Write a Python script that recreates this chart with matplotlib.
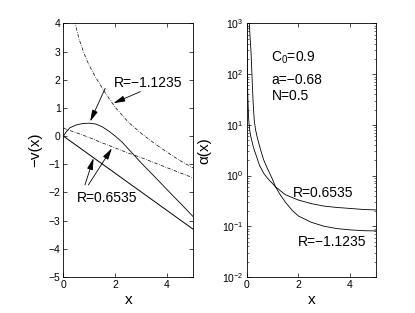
import matplotlib
matplotlib.use("Agg")
import matplotlib.pyplot as plt
from matplotlib.ticker import LogLocator, NullFormatter

plt.rcParams["font.family"] = ["Liberation Sans", "DejaVu Sans"]
plt.rcParams["mathtext.fontset"] = "custom"
plt.rcParams["mathtext.rm"] = "Liberation Sans"
plt.rcParams["mathtext.it"] = "Liberation Sans:italic"

# --------------------------------------------------
# DATA
# --------------------------------------------------

# left panel: -v(x)
line_x = [0, 1, 2, 3, 4, 5]
line_y = [0, -0.66, -1.32, -1.98, -2.64, -3.3]

hump_x = [0, 0.1, 0.25, 0.5, 0.75, 1.0, 1.25, 1.5, 1.75, 2.0, 2.25, 2.5, 3.0, 3.5, 4.0, 4.5, 5.0]
hump_y = [0, 0.15, 0.3, 0.4, 0.45, 0.46, 0.43, 0.33, 0.18, 0.0, -0.2, -0.45, -0.95, -1.42, -1.9, -2.37, -2.85]

upper_dd_x = [0.42, 0.6, 0.75, 0.9, 1.0, 1.25, 1.5, 1.75, 2.0, 2.5, 3.0, 3.5, 4.0, 4.5, 5.0]
upper_dd_y = [4.1, 3.45, 3.05, 2.7, 2.5, 2.08, 1.7, 1.35, 1.02, 0.5, 0.1, -0.25, -0.57, -0.87, -1.13]

lower_dd_x = [0, 0.5, 1.0, 1.5, 2.0, 2.5, 3.0, 3.5, 4.0, 4.5, 5.0]
lower_dd_y = [0.28, 0.12, -0.05, -0.24, -0.42, -0.6, -0.76, -0.94, -1.12, -1.3, -1.48]

# right panel: alpha(x)
alpha_pos_x = [0.015, 0.02, 0.03, 0.04, 0.05, 0.065, 0.08, 0.1, 0.13, 0.17, 0.2, 0.25,
               0.3, 0.35, 0.5, 0.67, 0.8, 1.0, 1.12, 1.5, 2.0, 2.5, 3.0, 3.5, 4.0, 4.5, 5.0]
alpha_pos_y = [1000, 400, 120, 60, 38, 22, 14, 10, 7.5, 5.8, 5.0, 3.9,
               3.2, 2.7, 1.6, 1.1, 0.9, 0.7, 0.6, 0.42, 0.33, 0.28, 0.25, 0.235, 0.225, 0.215, 0.21]

alpha_neg_x = [0.11, 0.14, 0.17, 0.2, 0.23, 0.26, 0.3, 0.35, 0.42, 0.5, 0.57, 0.67, 0.8,
               0.9, 1.0, 1.12, 1.3, 1.5, 1.75, 2.0, 2.5, 3.0, 3.5, 4.0, 4.5, 5.0]
alpha_neg_y = [1000, 500, 300, 130, 55, 25, 12, 8, 5.5, 3.9, 2.9, 2.0, 1.4,
               1.1, 0.85, 0.6, 0.42, 0.3, 0.21, 0.16, 0.12, 0.1, 0.09, 0.085, 0.082, 0.081]

params = ["C$_0$=0.9", "a=\u22120.68", "N=0.5"]


def box_ticks(ax):
    ax.tick_params(direction="in", top=True, right=True, labelsize=7.5,
                   length=3, width=0.5, pad=2)
    ax.tick_params(which="minor", direction="in", top=True, right=True,
                   length=1.5, width=0.4)
    for s in ax.spines.values():
        s.set_linewidth(0.6)


fig = plt.figure(figsize=(4.15, 3.13), dpi=100)

# --------------------------------------------------
# LEFT PANEL
# --------------------------------------------------

ax1 = fig.add_axes([0.153, 0.115, 0.312, 0.81])
ax1.plot(line_x, line_y, "k-", lw=0.7)
ax1.plot(hump_x, hump_y, "k-", lw=0.6)
ax1.plot(upper_dd_x, upper_dd_y, "k-.", lw=0.5, dashes=(5, 2, 1, 2))
ax1.plot(lower_dd_x, lower_dd_y, "k-.", lw=0.5, dashes=(5, 2, 1, 2))
ax1.set_xlim(0, 5)
ax1.set_ylim(-5, 4)
ax1.set_xticks([0, 2, 4])
ax1.set_yticks(range(-5, 5))
ax1.set_xlabel("x", fontsize=11, labelpad=2)
ax1.set_ylabel("\u2212v(x)", fontsize=11, labelpad=5)
box_ticks(ax1)

arrow = dict(arrowstyle="-|>,head_length=0.7,head_width=0.18", color="k",
             lw=0.6, shrinkA=0, shrinkB=0)
ax1.text(1.93, 1.88, "R=\u22121.1235", fontsize=10, va="center", ha="left")
ax1.annotate("", xy=(1.03, 0.52), xytext=(1.61, 1.7), arrowprops=arrow)
ax1.annotate("", xy=(1.93, 1.17), xytext=(2.97, 1.58), arrowprops=arrow)

ax1.text(0.51, -2.2, "R=0.6535", fontsize=10, va="center", ha="left")
ax1.annotate("", xy=(1.16, -0.78), xytext=(0.83, -1.73), arrowprops=arrow)
ax1.annotate("", xy=(1.87, -0.43), xytext=(0.96, -1.73), arrowprops=arrow)

# --------------------------------------------------
# RIGHT PANEL
# --------------------------------------------------

ax2 = fig.add_axes([0.594, 0.115, 0.312, 0.81])
ax2.semilogy(alpha_pos_x, alpha_pos_y, "k-", lw=0.6)
ax2.semilogy(alpha_neg_x, alpha_neg_y, "k-", lw=0.6)
ax2.set_xlim(0, 5)
ax2.set_ylim(1e-2, 1e3)
ax2.set_xticks([0, 2, 4])
ax2.yaxis.set_major_locator(LogLocator(base=10, numticks=10))
ax2.yaxis.set_minor_locator(LogLocator(base=10, subs=range(2, 10), numticks=50))
ax2.yaxis.set_minor_formatter(NullFormatter())
ax2.set_xlabel("x", fontsize=11, labelpad=2)
ax2.set_ylabel("\u03b1(x)", fontsize=11, labelpad=8)
box_ticks(ax2)

ax2.text(1.78, 0.45, "R=0.6535", fontsize=10, va="center", ha="left")
ax2.text(1.98, 0.05, "R=\u22121.1235", fontsize=10, va="center", ha="left")

for txt, yf in zip(params, [0.865, 0.777, 0.714]):
    ax2.text(0.193, yf, txt, fontsize=10, transform=ax2.transAxes,
             va="center", ha="left")

fig.savefig("out.png", dpi=100)
